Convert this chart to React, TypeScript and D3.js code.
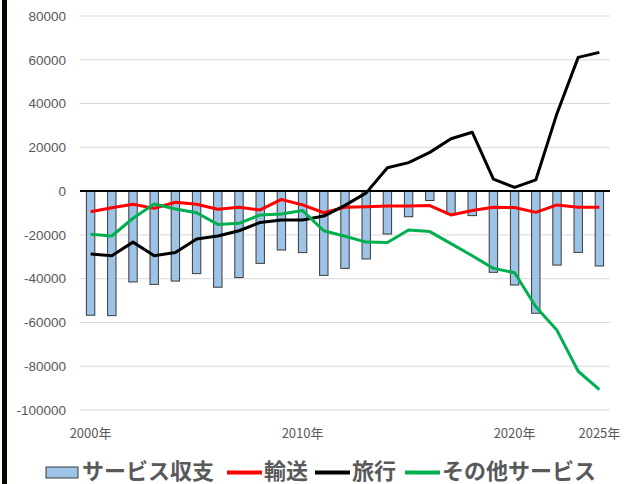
import React from "react";
import * as d3 from "d3";

const years = d3.range(2000, 2025).map((y) => String(y));
const xTickLabels: Record<string, string> = { "2000": "2000年", "2010": "2010年", "2020": "2020年", "2024": "2025年" };
const serviceBalance = [-56700, -56900, -41500, -42600, -41100, -37700, -43900, -39500, -33000, -26900, -28100, -38500, -35300, -31000, -19600, -11700, -4300, -10500, -11200, -37100, -42900, -55800, -33800, -28000, -34200];
const transport = [-9400, -7600, -6000, -7900, -5100, -6000, -8300, -7400, -8600, -3800, -6300, -9900, -7400, -7100, -6800, -6800, -6600, -10900, -8900, -7400, -7500, -9700, -6300, -7400, -7400];
const travel = [-28700, -29500, -23300, -29500, -28000, -21900, -20500, -18100, -14300, -13200, -13200, -11400, -6500, -800, 10700, 13000, 17700, 23900, 26900, 5500, 1700, 5100, 35500, 61100, 63400];
const otherServices = [-19700, -20500, -12400, -5900, -8200, -9900, -15200, -14700, -10900, -10500, -8900, -18100, -20600, -23300, -23500, -17800, -18500, -24000, -29500, -35300, -37300, -52800, -63600, -82300, -90700];
const yTicks = [80000, 60000, 40000, 20000, 0, -20000, -40000, -60000, -80000, -100000];

const W = 636, H = 484;
const left = 80, right = 610, top = 16, bottom = 410;

export default function App() {
  const xc = d3.scalePoint().domain(years).range([left + 10.6, right - 10.6]);
  const y = d3.scaleLinear().domain([-100000, 80000]).range([bottom, top]);
  const lineGen = (vals: number[]) =>
    d3.line<number>().x((_, i) => xc(years[i]) as number).y((v) => y(v))(vals) as string;
  const bw = 8.4;
  const font = "'Liberation Sans', Arial, sans-serif";
  const cjk = "'Noto Sans CJK JP', 'Noto Sans', sans-serif";
  const legend = [
    { type: "bar", label: "サービス収支", x: 46, tx: 82 },
    { type: "line", color: "#FF0000", label: "輸送", x: 227, tx: 264 },
    { type: "line", color: "#000000", label: "旅行", x: 315, tx: 352 },
    { type: "line", color: "#00B050", label: "その他サービス", x: 405, tx: 442 },
  ];
  return (
    <svg width={W} height={H} style={{ position: "absolute", left: 0, top: 0, background: "#fff" }}>
      <rect x={0} y={0} width={W} height={H} fill="#fff" />
      <rect x={2} y={0} width={5} height={H} fill="#0a0600" />
      {yTicks.map((t) => (
        <g key={t}>
          {t !== 0 && <line x1={left} x2={right} y1={y(t)} y2={y(t)} stroke="#D9D9D9" strokeWidth={1} />}
          <text x={66} y={y(t)} dy="0.35em" textAnchor="end" fontSize={13.5} fill="#595959" fontFamily={font}>
            {t}
          </text>
        </g>
      ))}
      {years.map((yr, i) => {
        const v = serviceBalance[i];
        const cx = xc(yr) as number;
        return (
          <rect key={yr} x={cx - bw / 2} y={y(Math.max(0, v))} width={bw} height={Math.abs(y(v) - y(0))} fill="#9DC3E6" stroke="#3A3A3A" strokeWidth={1} />
        );
      })}
      <line x1={left} x2={right} y1={y(0)} y2={y(0)} stroke="#000" strokeWidth={2} />
      <path d={lineGen(transport)} fill="none" stroke="#FF0000" strokeWidth={3} strokeLinejoin="round" />
      <path d={lineGen(travel)} fill="none" stroke="#000000" strokeWidth={3} strokeLinejoin="round" />
      <path d={lineGen(otherServices)} fill="none" stroke="#00B050" strokeWidth={3} strokeLinejoin="round" />
      {years.map((yr) =>
        xTickLabels[yr] ? (
          <text key={yr} x={xc(yr) as number} y={438} textAnchor="middle" fontSize={13} fill="#595959" fontFamily={cjk}>
            {xTickLabels[yr]}
          </text>
        ) : null
      )}
      {legend.map((l) => (
        <g key={l.label}>
          {l.type === "bar" ? (
            <rect x={l.x} y={467} width={32} height={11} fill="#9DC3E6" stroke="#3A3A3A" strokeWidth={1} />
          ) : (
            <line x1={l.x} x2={l.x + 35} y1={472.5} y2={472.5} stroke={l.color} strokeWidth={4} />
          )}
          <text x={l.tx} y={479} fontSize={22} fontWeight="bold" fill="#595959" fontFamily={cjk}>
            {l.label}
          </text>
        </g>
      ))}
    </svg>
  );
}
